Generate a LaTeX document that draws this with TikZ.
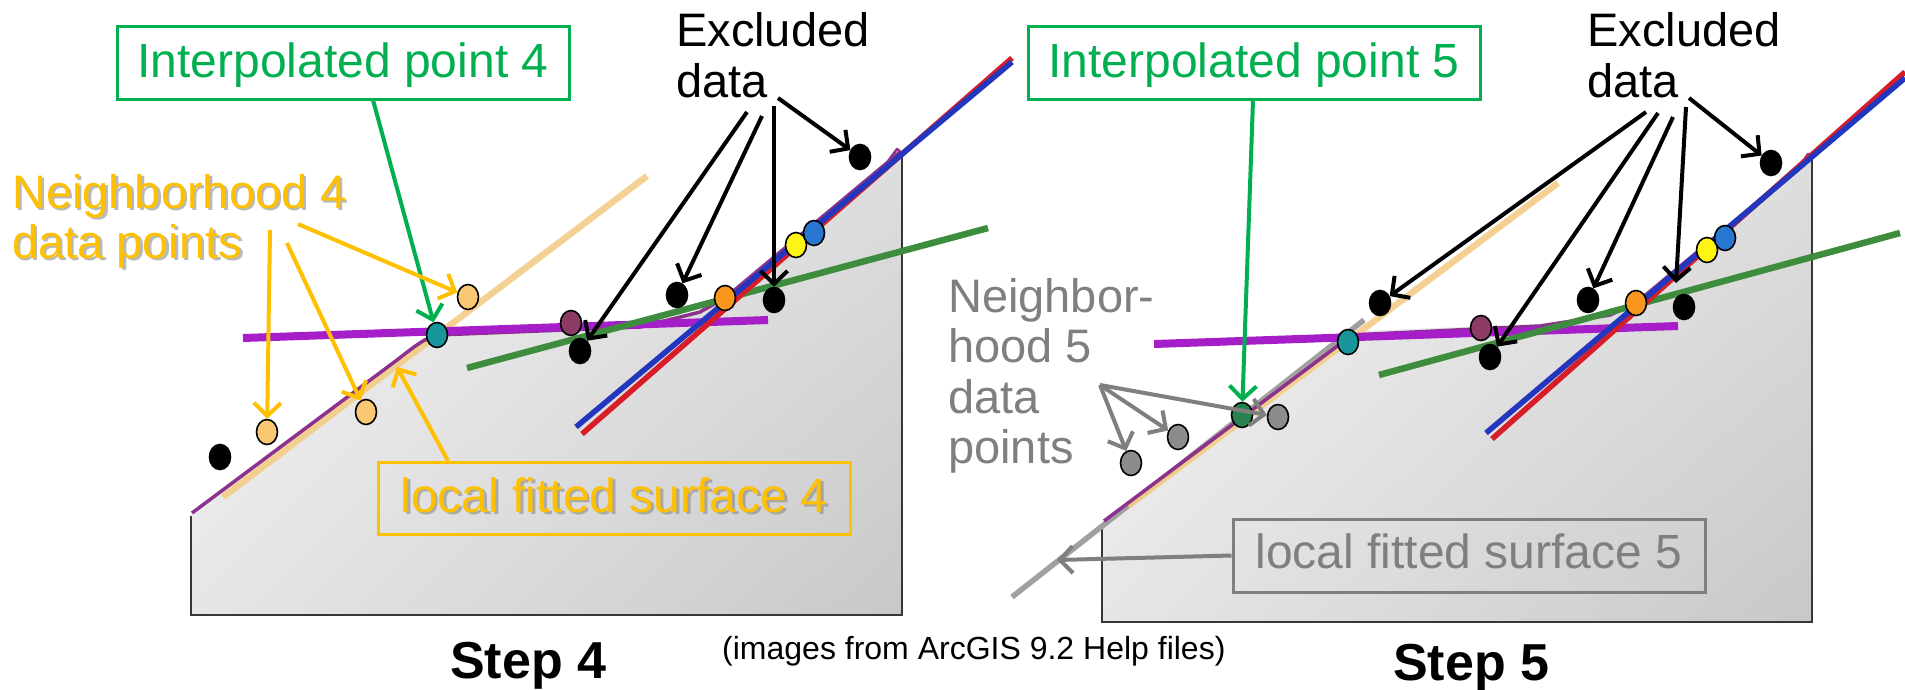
\documentclass[tikz,border=0pt]{standalone}
\usepackage{fontspec}
\setmainfont{Liberation Sans}
\usetikzlibrary{shapes.geometric,arrows.meta,shadings}

\definecolor{ipgreen}{HTML}{00B050}
\definecolor{nborange}{HTML}{FFC000}
\definecolor{lblgray}{HTML}{7F7F7F}
\definecolor{tanline}{RGB}{243,205,135}
\definecolor{surfpurple}{RGB}{140,50,140}
\definecolor{magline}{RGB}{165,30,200}
\definecolor{grnline}{RGB}{62,140,62}
\definecolor{blueline}{RGB}{35,55,190}
\definecolor{redline}{RGB}{215,30,40}
\definecolor{grayline}{RGB}{160,160,160}
\definecolor{ptpeach}{RGB}{250,200,115}
\definecolor{ptteal}{RGB}{25,150,155}
\definecolor{ptmaroon}{RGB}{140,60,100}
\definecolor{ptorange}{RGB}{248,150,30}
\definecolor{ptyellow}{RGB}{255,245,20}
\definecolor{ptblue}{RGB}{40,120,210}
\definecolor{ptgray}{RGB}{140,140,140}
\definecolor{ptgreen}{RGB}{40,130,80}
\definecolor{pnlA}{RGB}{248,248,248}
\definecolor{pnlB}{RGB}{222,222,222}
\definecolor{pnlC}{RGB}{230,230,230}
\definecolor{pnlD}{RGB}{200,200,200}
\definecolor{pnledge}{RGB}{55,55,55}

\begin{document}
\begin{tikzpicture}[x=1pt,y=-1pt,
  lbl/.style={inner sep=0, anchor=base west, font=\fontsize{47}{50}\selectfont},
  boxlbl/.style={draw, line width=3pt, inner sep=0, font=\fontsize{48}{50}\selectfont},
  shadowtxt/.style={text=black!50, opacity=0.55},
  steplbl/.style={inner sep=0, anchor=base west, font=\fontsize{52}{54}\selectfont\bfseries},
  caplbl/.style={inner sep=0, anchor=base west, font=\fontsize{32}{34}\selectfont},
  datapt/.style={ellipse, draw=black, line width=1.6pt, minimum width=21pt, minimum height=25pt, inner sep=0},
  arr/.style={line width=4pt, -{Straight Barb[length=13pt,width=27pt]}},
  surf/.style={surfpurple, line width=3.5pt, line join=round},
  tanl/.style={tanline, line width=6.5pt, opacity=0.9},
  magl/.style={magline, line width=8pt},
  grnl/.style={grnline, line width=6.5pt},
  bluel/.style={blueline, line width=5.5pt},
  redl/.style={redline, line width=5.5pt},
  grayl/.style={grayline, line width=5.5pt},
  pedge/.style={pnledge, line width=2.5pt},
  pnlshade/.style={upper left=pnlA, upper right=pnlB, lower left=pnlC, lower right=pnlD}
]
\useasboundingbox[fill=white] (0,0) rectangle (1905,689);

% ---------- panels ----------
\shade[pnlshade]
  (191,615) -- (191,516) -- (397,362) -- (427,341) -- (440,334) -- (640,327) -- (700,312) -- (725,298) -- (902,152) -- (902,615) -- cycle;
\draw[pedge] (191,516) -- (191,615) -- (902,615) -- (902,152);

\shade[pnlshade]
  (1102,622) -- (1102,526) -- (1340,340) -- (1362,331) -- (1540,324) -- (1610,315) -- (1636,303) -- (1812,157) -- (1812,622) -- cycle;
\draw[pedge] (1102,526) -- (1102,622) -- (1812,622) -- (1812,157);

% ---------- lines, step 4 ----------
\draw[tanl] (223,497) -- (647,176);
\draw[surf] (192,513) -- (397,360) .. controls (415,346) and (425,338) .. (437,335) -- (640,327) -- (700,312) -- (725,298) -- (900,152);
\draw[surf, line width=2.5pt] (883,168) -- (897,149) -- (902,153);
\draw[magl] (243,338) -- (768,320);
\draw[grnl] (467,368) -- (988,228);
\draw[redl] (582,434) -- (1012,58);
\draw[bluel] (576,427) -- (1012,62);

% ---------- lines, step 5 ----------
\draw[grayl] (1012,597) -- (1364,320);
\draw[tanl] (1128,506) -- (1558,183);
\draw[surf] (1104,521) -- (1352,335) -- (1540,326) -- (1610,315) -- (1636,303) -- (1810,158);
\draw[surf, line width=2.5pt] (1795,173) -- (1808,154) -- (1812,158);
\draw[magl] (1154,344) -- (1678,326);
\draw[grnl] (1379,375) -- (1900,233);
\draw[redl] (1492,439) -- (1905,72);
\draw[bluel] (1486,433) -- (1905,78);

% ---------- data points, step 4 ----------
\node[datapt, fill=black]    (l4b1) at (220,457) {};
\node[datapt, fill=ptpeach]  (l4p1) at (267,432) {};
\node[datapt, fill=ptpeach]  (l4p2) at (366,412) {};
\node[datapt, fill=ptteal]   (l4teal) at (437,335) {};
\node[datapt, fill=ptpeach]  (l4p3) at (468,297) {};
\node[datapt, fill=ptmaroon] (l4mar) at (571,323) {};
\node[datapt, fill=black]    (l4b2) at (580,351) {};
\node[datapt, fill=black]    (l4b3) at (677,295) {};
\node[datapt, fill=ptorange] (l4org) at (725,298) {};
\node[datapt, fill=black]    (l4b4) at (774,300) {};
\node[datapt, fill=ptyellow] (l4yel) at (796,245) {};
\node[datapt, fill=ptblue]   (l4blu) at (814,233) {};
\node[datapt, fill=black]    (l4b5) at (860,157) {};

% ---------- data points, step 5 ----------
\node[datapt, fill=ptgray]   (r5g1) at (1131,463) {};
\node[datapt, fill=ptgray]   (r5g2) at (1178,437) {};
\node[datapt, fill=ptgreen]  (r5green) at (1242,415) {};
\node[datapt, fill=ptgray]   (r5g3) at (1278,417) {};
\node[datapt, fill=ptteal]   (r5teal) at (1348,342) {};
\node[datapt, fill=black]    (r5b1) at (1380,303) {};
\node[datapt, fill=ptmaroon] (r5mar) at (1481,328) {};
\node[datapt, fill=black]    (r5b2) at (1490,357) {};
\node[datapt, fill=black]    (r5b3) at (1588,300) {};
\node[datapt, fill=ptorange] (r5org) at (1636,303) {};
\node[datapt, fill=black]    (r5b4) at (1684,307) {};
\node[datapt, fill=ptyellow] (r5yel) at (1707,250) {};
\node[datapt, fill=ptblue]   (r5blu) at (1725,238) {};
\node[datapt, fill=black]    (r5b5) at (1771,163) {};

% ---------- labels, step 4 ----------
\node[boxlbl, draw=ipgreen, text=ipgreen, minimum width=452pt, minimum height=73pt,
      text height=51pt, text depth=22pt] (ip4) at (343,62.5) {Interpolated point 4};
\node[lbl] (ex4a) at (676,46) {Excluded};
\node[lbl] (ex4) at (676,97) {data};
\node[lbl, shadowtxt] at (14.5,210.5) {Neighborhood 4};
\node[lbl, shadowtxt] at (14.5,260.5) {data points};
\node[lbl, text=nborange] (nb4a) at (12,208) {Neighborhood 4};
\node[lbl, text=nborange] (nb4) at (12,258) {data points};
\node[boxlbl, draw=none, shadowtxt, minimum width=472pt, minimum height=72pt,
      text height=50pt, text depth=22pt] at (616.5,500.5) {local fitted surface 4};
\node[boxlbl, draw=nborange, text=nborange, minimum width=472pt, minimum height=72pt,
      text height=50pt, text depth=22pt] (lfs4) at (614,498) {local fitted surface 4};
\node[steplbl] (s4) at (450,678) {Step 4};
\node[caplbl] (cap) at (722,659) {(images from ArcGIS 9.2 Help files)};

% ---------- labels, step 5 ----------
\node[boxlbl, draw=ipgreen, text=ipgreen, minimum width=452pt, minimum height=73pt,
      text height=51pt, text depth=22pt] (ip5) at (1254,62.5) {Interpolated point 5};
\node[lbl] (ex5a) at (1587,46) {Excluded};
\node[lbl] (ex5) at (1587,97) {data};
\node[lbl, text=lblgray] (nb5a) at (948,312) {Neighbor-};
\node[lbl, text=lblgray] (nb5b) at (948,362) {hood 5};
\node[lbl, text=lblgray] (nb5c) at (948,413) {data};
\node[lbl, text=lblgray] (nb5) at (948,463) {points};
\node[boxlbl, draw=lblgray, text=lblgray, minimum width=472pt, minimum height=73pt,
      text height=49pt, text depth=24pt] (lfs5) at (1469,555.5) {local fitted surface 5};
\node[steplbl] (s5) at (1393,680) {Step 5};

% ---------- arrow start / end points ----------
\coordinate (g4s) at (373,100);
\coordinate (g5s) at (1253,100);
\coordinate (e4s1) at (747,112);
\coordinate (e4s2) at (762,116);
\coordinate (e4s3) at (774,106);
\coordinate (e4s4) at (778,98);
\coordinate (e5s1) at (1646,112);
\coordinate (e5s2) at (1658,113);
\coordinate (e5s3) at (1673,117);
\coordinate (e5s4) at (1686,107);
\coordinate (e5s5) at (1689,98);
\coordinate (e5t4) at (1676,283);
\coordinate (n4s1) at (270,230);
\coordinate (n4s2) at (287,243);
\coordinate (n4s3) at (298,224);
\coordinate (f4s) at (448,461);
\coordinate (f4t) at (397,367);
\coordinate (n5s) at (1100,385);
\coordinate (f5t) at (1057,560);

% ---------- arrows ----------
\draw[arr, ipgreen] (g4s) -- (l4teal);
\draw[arr, ipgreen] (g5s) -- (r5green);

\draw[arr, black] (e4s1) -- (l4b2);
\draw[arr, black] (e4s2) -- (l4b3);
\draw[arr, black] (e4s3) -- (l4b4);
\draw[arr, black] (e4s4) -- (l4b5);

\draw[arr, black] (e5s1) -- (r5b1);
\draw[arr, black] (e5s2) -- (r5b2);
\draw[arr, black] (e5s3) -- (r5b3);
\draw[arr, black] (e5s4) -- (e5t4);
\draw[arr, black] (e5s5) -- (r5b5);

\draw[arr, nborange] (n4s1) -- (l4p1);
\draw[arr, nborange] (n4s2) -- (l4p2);
\draw[arr, nborange] (n4s3) -- (l4p3);
\draw[arr, nborange] (f4s) -- (f4t);

\draw[arr, lblgray] (n5s) -- (r5g1);
\draw[arr, lblgray] (n5s) -- (r5g2);
\draw[arr, lblgray] (n5s) -- (r5g3);
\draw[arr, lblgray] (lfs5.west) -- (f5t);
\end{tikzpicture}
\end{document}
